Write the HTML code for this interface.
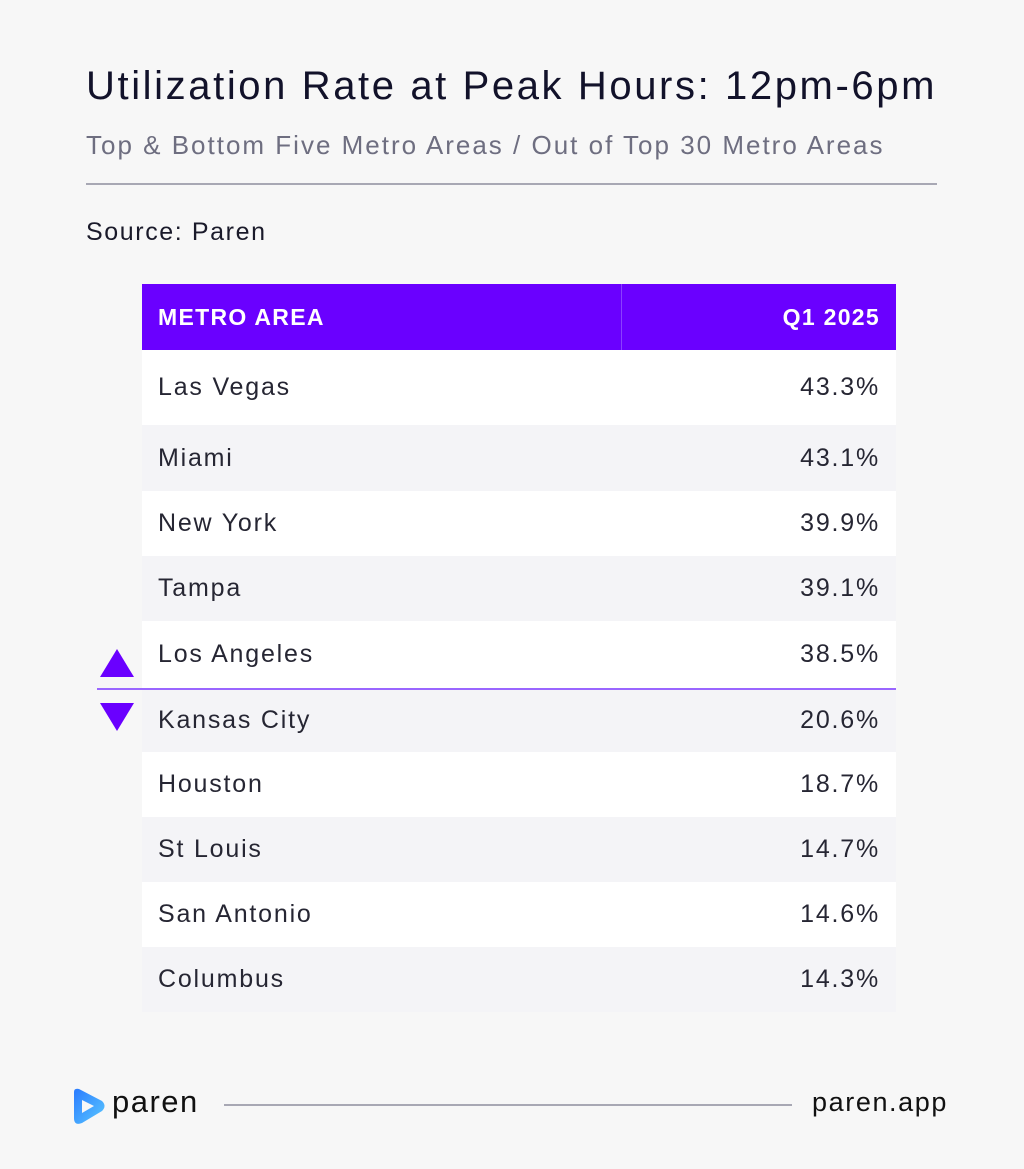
<!DOCTYPE html>
<html><head><style>
body{margin:0;width:1024px;height:1169px;background:#f7f7f7;font-family:"Liberation Sans",sans-serif;position:relative;overflow:hidden;color:#1a1a2a}
.a{position:absolute}
.row{position:absolute;left:142px;width:754px;display:flex;align-items:center;justify-content:space-between;box-sizing:border-box;padding:0 16px 0 16px;font-size:25px;color:#262633;letter-spacing:1.8px}
</style></head><body>
<div class="a" style="left:86px;top:64px;font-size:40px;color:#12122a;letter-spacing:2.6px">Utilization Rate at Peak Hours: 12pm-6pm</div>
<div class="a" style="left:86px;top:130px;font-size:26px;color:#6e6e80;letter-spacing:2px">Top &amp; Bottom Five Metro Areas / Out of Top 30 Metro Areas</div>
<div class="a" style="left:86px;top:183px;width:851px;height:2px;background:#a8a8b4"></div>
<div class="a" style="left:86px;top:218px;font-size:25px;color:#1a1a2a;letter-spacing:1.6px">Source: Paren</div>
<div class="row" style="top:284px;height:66px;background:#6a00ff;color:#fff;font-weight:bold;font-size:23px;letter-spacing:1.3px"><span>METRO AREA</span><span>Q1 2025</span></div>
<div class="a" style="left:621px;top:284px;width:1px;height:66px;background:#8a40ff"></div>
<div class="row" style="top:350px;height:75px;background:#fff"><span>Las Vegas</span><span>43.3%</span></div>
<div class="row" style="top:425px;height:66px;background:#f4f4f7"><span>Miami</span><span>43.1%</span></div>
<div class="row" style="top:491px;height:65px;background:#fff"><span>New York</span><span>39.9%</span></div>
<div class="row" style="top:556px;height:65px;background:#f4f4f7"><span>Tampa</span><span>39.1%</span></div>
<div class="row" style="top:621px;height:67px;background:#fff"><span>Los Angeles</span><span>38.5%</span></div>
<div class="row" style="top:688px;height:64px;background:#f4f4f7"><span>Kansas City</span><span>20.6%</span></div>
<div class="row" style="top:752px;height:65px;background:#fff"><span>Houston</span><span>18.7%</span></div>
<div class="row" style="top:817px;height:65px;background:#f4f4f7"><span>St Louis</span><span>14.7%</span></div>
<div class="row" style="top:882px;height:65px;background:#fff"><span>San Antonio</span><span>14.6%</span></div>
<div class="row" style="top:947px;height:65px;background:#f4f4f7"><span>Columbus</span><span>14.3%</span></div>
<div class="a" style="left:97px;top:688px;width:799px;height:2px;background:#9a66ff"></div>
<div class="a" style="left:100px;top:649px;width:0;height:0;border-left:17px solid transparent;border-right:17px solid transparent;border-bottom:28px solid #6a00ff"></div>
<div class="a" style="left:100px;top:703px;width:0;height:0;border-left:17px solid transparent;border-right:17px solid transparent;border-top:28px solid #6a00ff"></div>
<svg class="a" style="left:70px;top:1086px" width="38" height="40" viewBox="0 0 38 40"><defs><linearGradient id="g" x1="0" y1="0" x2="1" y2="1"><stop offset="0" stop-color="#2a7bff"/><stop offset="1" stop-color="#5ac8ff"/></linearGradient></defs><path d="M4 6 Q4 2 9 3 L32 15 Q37 20 32 25 L12 37 Q4 40 4 32 Z M12 14 L12 27 L24 20 Z" fill="url(#g)" fill-rule="evenodd"/></svg>
<div class="a" style="left:112px;top:1084px;font-size:31px;color:#111;letter-spacing:1.5px">paren</div>
<div class="a" style="left:224px;top:1104px;width:568px;height:2px;background:#a8a8b4"></div>
<div class="a" style="left:812px;top:1087px;font-size:27px;color:#111;letter-spacing:1.6px">paren.app</div>
</body></html>
